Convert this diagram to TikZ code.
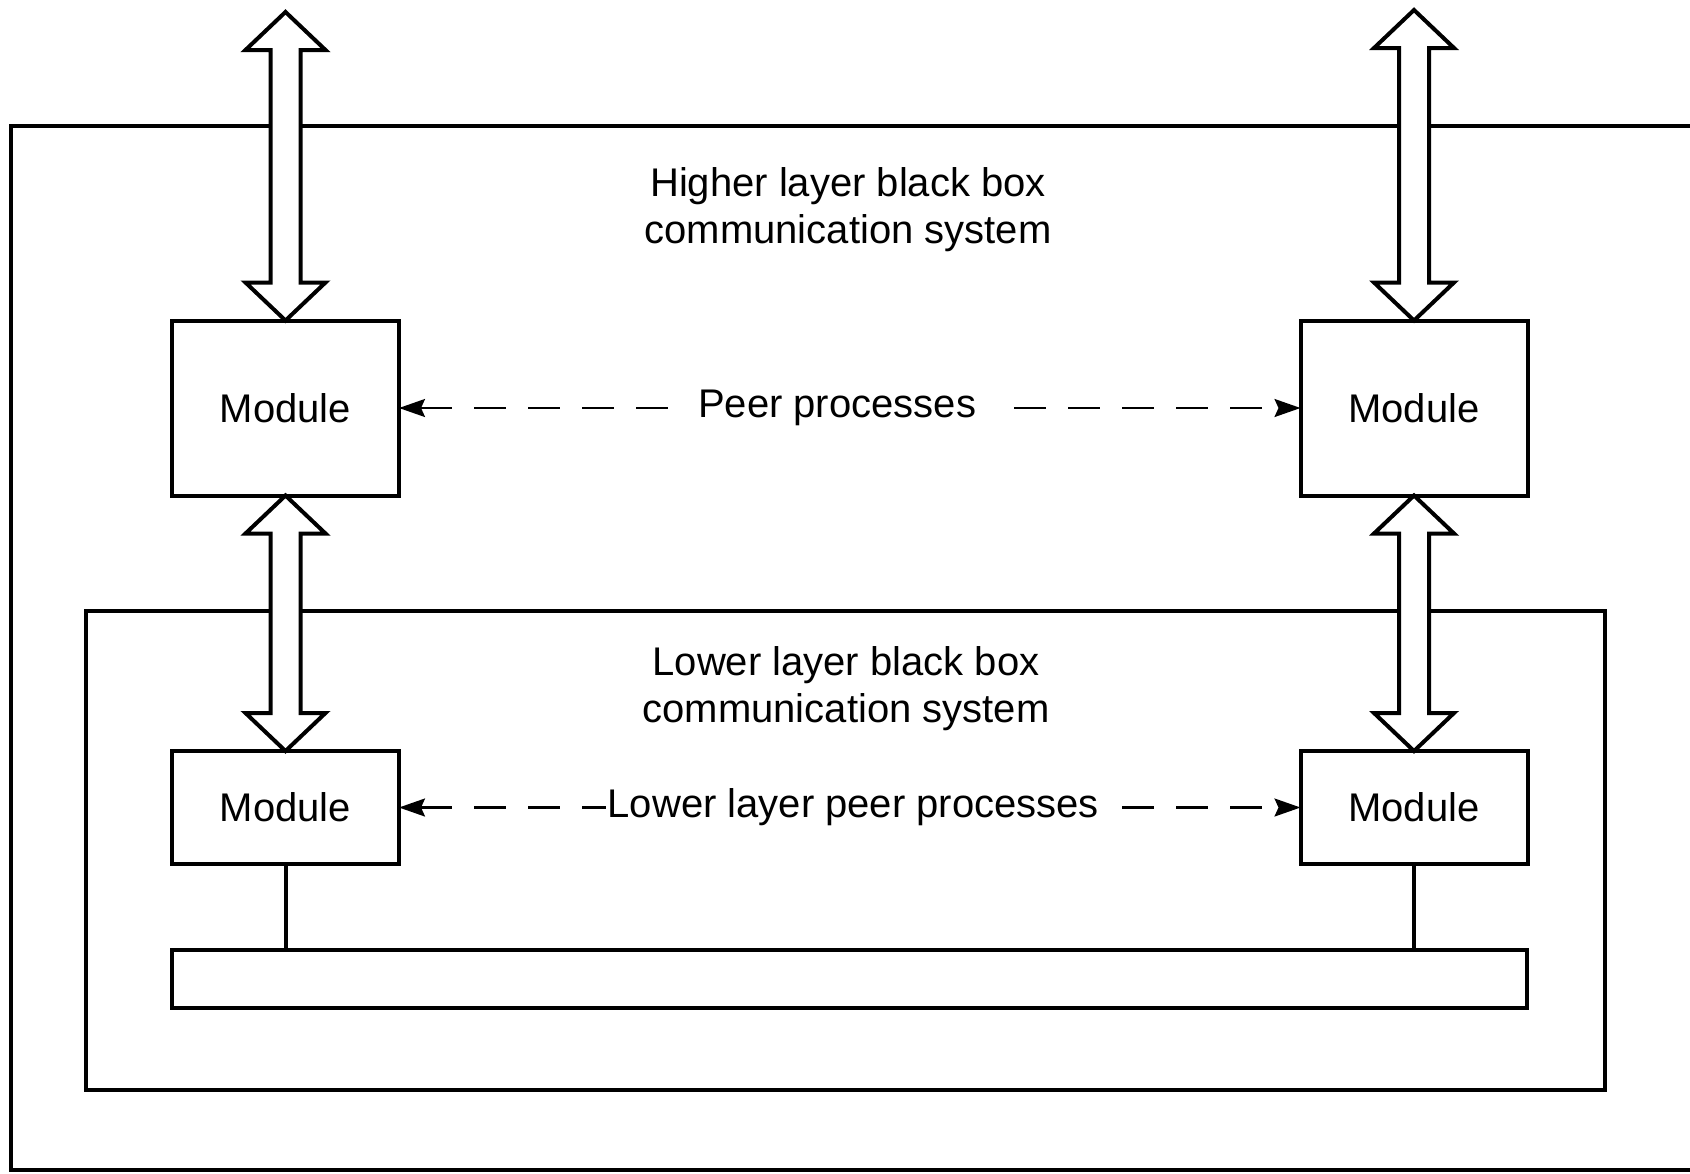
\documentclass[tikz,border=0pt]{standalone}
\usepackage{fontspec}
\setmainfont{Liberation Sans}
\usetikzlibrary{arrows.meta,calc}

\tikzset{
  module/.style={draw, line width=2pt, fill=white, inner sep=0pt, outer sep=0pt,
                 minimum width=113.5pt, font=\fontsize{20pt}{23.5pt}\selectfont},
  tallmod/.style={module, minimum height=87.5pt},
  shortmod/.style={module, minimum height=56.5pt},
  busbar/.style={draw, line width=2pt, inner sep=0pt, outer sep=0pt,
                 minimum width=677.5pt, minimum height=29pt},
  frame/.style={line width=1.6pt},
  hollow/.style={draw, fill=white, line width=2pt, line join=miter},
  peer/.style={line width=1.1pt, dash pattern=on 16pt off 11pt,
               {Stealth[length=13pt,width=9pt,inset=2pt]}-{Stealth[length=13pt,width=9pt,inset=2pt]}},
  caption/.style={align=center, font=\fontsize{20pt}{23.5pt}\selectfont},
  peerlabel/.style={fill=white, font=\fontsize{20pt}{23.5pt}\selectfont}
}

% wide hollow double-headed arrow from tip #1 (top) to tip #2 (bottom)
\newcommand\hollowarrow[2]{%
  \draw[hollow] (#1) -- ++(40,38) -- ++(-25,0) -- ($(#2)+(15,-38)$) -- ++(25,0)
    -- (#2) -- ++(-40,-38) -- ++(25,0) -- ($(#1)+(-15,38)$) -- ++(-25,0) -- cycle;}

\begin{document}
\begin{tikzpicture}[x=0.5pt, y=-0.5pt]
  \useasboundingbox (0,0) rectangle (1690,1173);

  % outer (higher layer) black box, open to the right
  \draw[frame] (1690,126) -- (11,126) -- (11,1170) -- (1690,1170);
  % inner (lower layer) black box
  \draw[frame, line width=1.8pt] (86,611) rectangle (1605,1090);

  \node[caption] (hcap) at (848,210) {Higher layer black box\\communication system};
  \node[caption] (lcap) at (846,689) {Lower layer black box\\communication system};

  % modules
  \node[tallmod] (mh1) at (285.5,408) {Module};
  \node[tallmod] (mh2) at (1414,408) {Module};
  \node[shortmod] (ml1) at (285.5,807.5) {Module};
  \node[shortmod] (ml2) at (1414,807.5) {Module};

  % physical medium
  \node[busbar] (bus) at (849.5,979) {};
  \draw[line width=2pt] (ml1.south) -- (ml1.south |- bus.north);
  \draw[line width=2pt] (ml2.south) -- (ml2.south |- bus.north);

  % interfaces between layers
  \coordinate (tl) at (285.5,12);
  \coordinate (tr) at (1414,10);
  \hollowarrow{tl}{mh1.north}
  \hollowarrow{tr}{mh2.north}
  \hollowarrow{mh1.south}{ml1.north}
  \hollowarrow{mh2.south}{ml2.north}

  % peer relations
  \draw[peer] (mh1.east) -- node[peerlabel, pos=0.486, inner xsep=11pt] {Peer processes} (mh2.west);
  \draw[peer] (ml1.east) -- node[peerlabel, pos=0.504, inner xsep=1pt] {Lower layer peer processes} (ml2.west);
\end{tikzpicture}
\end{document}
